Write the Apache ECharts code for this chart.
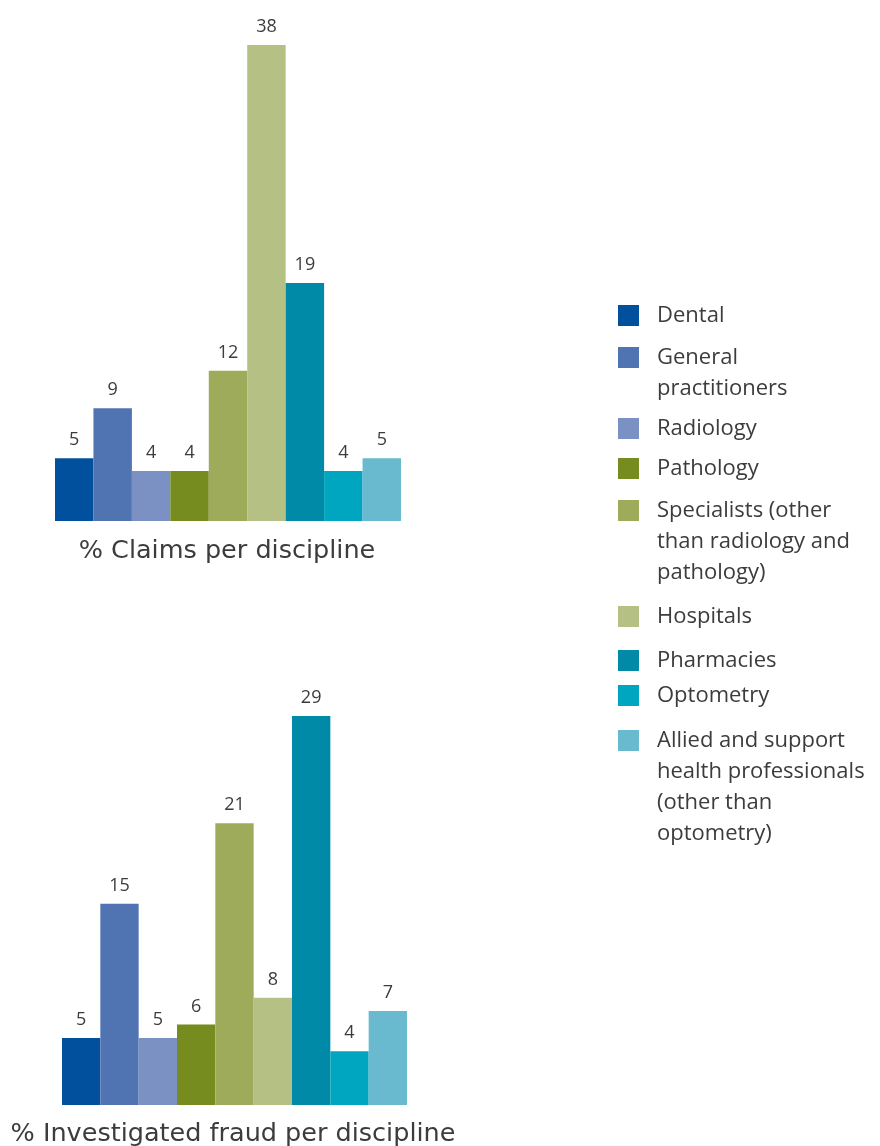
<!DOCTYPE html>
<html>
<head>
<meta charset="utf-8">
<title>Claims and investigated fraud per discipline</title>
<script src="https://cdn.jsdelivr.net/npm/echarts@6/dist/echarts.min.js"></script>
<style>
  html, body { margin: 0; padding: 0; background: #fff; }
  #chart { width: 880px; height: 1146px; }
</style>
</head>
<body>
<div id="chart"></div>
<script>
// disciplines, in legend order
const disciplines = ['Dental', 'General practitioners', 'Radiology', 'Pathology',
  'Specialists (other than radiology and pathology)', 'Hospitals', 'Pharmacies',
  'Optometry', 'Allied and support health professionals (other than optometry)']

// wrapped legend texts
const legendLines = [
  ['Dental'],
  ['General', 'practitioners'],
  ['Radiology'],
  ['Pathology'],
  ['Specialists (other', 'than radiology and', 'pathology)'],
  ['Hospitals'],
  ['Pharmacies'],
  ['Optometry'],
  ['Allied and support', 'health professionals', '(other than', 'optometry)']
]

const claimsPct = [5, 9, 4, 4, 12, 38, 19, 4, 5]
const fraudPct = [5, 15, 5, 6, 21, 8, 29, 4, 7]

const colors = ['#00509d', '#5073b2', '#7b91c3', '#768c1e', '#9eab5a',
  '#b5c184', '#008aa8', '#00a5c0', '#69bace']

// centre y of each legend square
const legendY = [315.5, 357.5, 428.5, 468.5, 510.5, 616.5, 660.5, 695.5, 740.5]

const LH = 31
const textColor = '#3c3c3c'

const chart = echarts.init(document.getElementById('chart'))

const makeSeries = (values, axisIndex) => disciplines.map((name, i) => ({
  name: name,
  type: 'bar',
  xAxisIndex: axisIndex,
  yAxisIndex: axisIndex,
  barGap: '-100%',
  barCategoryGap: 0,
  itemStyle: { color: colors[i] },
  label: {
    show: true,
    position: 'top',
    distance: 9,
    color: textColor,
    fontFamily: 'Open Sans',
    fontSize: 18
  },
  data: values.map((v, j) => (j === i ? v : '-'))
}))

// one legend per item so each line sits where it does in the picture.
// legend text is centred on the square, so blank lines are put in front
// to bring the first real line level with it
const legends = disciplines.map((name, i) => {
  const n = legendLines[i].length
  return {
    data: [name],
    left: 618,
    top: legendY[i] - (2 * n - 1) * LH / 2,
    padding: 0,
    itemWidth: 21,
    itemHeight: 21,
    icon: 'rect',
    selectedMode: false,
    formatter: () => '\n'.repeat(n - 1) + legendLines[i].join('\n'),
    textStyle: {
      color: textColor,
      fontFamily: 'Open Sans',
      fontSize: 22,
      lineHeight: LH,
      padding: [0, 0, 0, 13]
    }
  }
})

const titleStyle = {
  color: textColor,
  fontFamily: 'DejaVu Sans',
  fontWeight: 'normal',
  fontSize: 25.5
}

const option = {
  backgroundColor: '#fff',
  animation: false,
  title: [
    { text: '% Claims per discipline', left: 222, top: 533, textAlign: 'center', textStyle: titleStyle },
    { text: '% Investigated fraud per discipline', left: 228, top: 1116, textAlign: 'center', textStyle: titleStyle }
  ],
  legend: legends,
  grid: [
    { left: 55, right: 479, top: 45, bottom: 625 },
    { left: 62, right: 473, top: 716, bottom: 41 }
  ],
  xAxis: [0, 1].map(k => ({
    type: 'category',
    gridIndex: k,
    data: disciplines,
    show: false
  })),
  yAxis: [
    { type: 'value', gridIndex: 0, min: 0, max: 38, show: false },
    { type: 'value', gridIndex: 1, min: 0, max: 29, show: false }
  ],
  series: makeSeries(claimsPct, 0).concat(makeSeries(fraudPct, 1))
}

chart.setOption(option)
</script>
</body>
</html>
